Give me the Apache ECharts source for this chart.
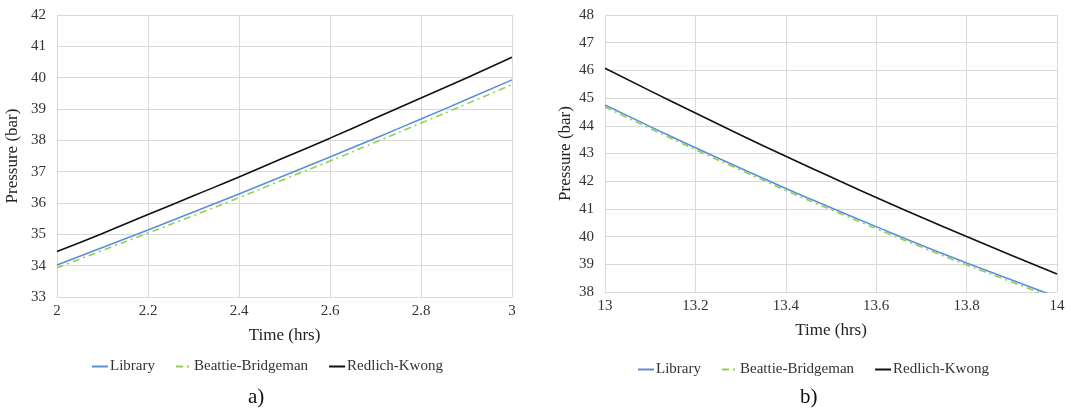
<!DOCTYPE html>
<html>
<head>
<meta charset="utf-8">
<script src="https://cdn.jsdelivr.net/npm/echarts@6/dist/echarts.min.js"></script>
<style>
html, body { margin: 0; padding: 0; background: #fff; }
#main { width: 1071px; height: 414px; }
</style>
</head>
<body>
<div id="main"></div>
<script>
// 数据 a)
var timeA = [2.0, 2.1, 2.2, 2.3, 2.4, 2.5, 2.6, 2.7, 2.8, 2.9, 3.0];
var libraryA = [34.02, 34.58, 35.14, 35.71, 36.29, 36.88, 37.47, 38.07, 38.68, 39.30, 39.93];
var beattieA = [33.93, 34.49, 35.04, 35.60, 36.17, 36.76, 37.34, 37.94, 38.55, 39.16, 39.78];
var redlichA = [34.45, 35.03, 35.63, 36.23, 36.83, 37.45, 38.07, 38.71, 39.35, 39.99, 40.65];
// 数据 b)
var timeB = [13.0, 13.1, 13.2, 13.3, 13.4, 13.5, 13.6, 13.7, 13.8, 13.9, 14.0];
var libraryB = [44.75, 43.97, 43.21, 42.47, 41.74, 41.04, 40.36, 39.69, 39.05, 38.43, 37.82];
var beattieB = [44.68, 43.90, 43.14, 42.40, 41.67, 40.97, 40.29, 39.62, 38.98, 38.36, 37.75];
var redlichB = [46.08, 45.26, 44.46, 43.67, 42.90, 42.15, 41.41, 40.70, 40.00, 39.32, 38.65];

var seriesNames = ['Library', 'Beattie-Bridgeman', 'Redlich-Kwong'];

function pairs(xs, ys) {
    return xs.map(function (x, i) { return [x, ys[i]]; });
}

var font = 'Liberation Serif';
var gridColor = '#d9d9d9';

function xAxisCfg(idx, min, max) {
    return {
        type: 'value', gridIndex: idx, min: min, max: max, interval: 0.2,
        name: 'Time (hrs)', nameLocation: 'middle', nameGap: 30,
        nameTextStyle: { fontFamily: font, fontSize: 17, color: '#222' },
        axisLine: { lineStyle: { color: gridColor } },
        axisTick: { show: false },
        axisLabel: { fontFamily: font, fontSize: 15, color: '#333', margin: 7,
            formatter: function (v) { return +v.toFixed(1) + ''; } },
        splitLine: { lineStyle: { color: gridColor } }
    };
}
function yAxisCfg(idx, min, max, gap) {
    return {
        type: 'value', gridIndex: idx, min: min, max: max, interval: 1,
        name: 'Pressure (bar)', nameLocation: 'middle', nameGap: gap,
        nameTextStyle: { fontFamily: font, fontSize: 17, color: '#222' },
        axisLine: { show: true, lineStyle: { color: gridColor } },
        axisTick: { show: false },
        axisLabel: { fontFamily: font, fontSize: 15, color: '#333', margin: 11 },
        splitLine: { lineStyle: { color: gridColor } }
    };
}
function lines(idx, xs, lib, bb, rk) {
    return [
        { name: 'Library', type: 'line', xAxisIndex: idx, yAxisIndex: idx, symbol: 'none',
          smooth: true, data: pairs(xs, lib), lineStyle: { color: '#5b8fd9', width: 1.6 }, itemStyle: { color: '#5b8fd9' } },
        { name: 'Beattie-Bridgeman', type: 'line', xAxisIndex: idx, yAxisIndex: idx, symbol: 'none',
          smooth: true, data: pairs(xs, bb), lineStyle: { color: '#92d050', width: 1.6, type: [7, 4, 2, 4] }, itemStyle: { color: '#92d050' } },
        { name: 'Redlich-Kwong', type: 'line', xAxisIndex: idx, yAxisIndex: idx, symbol: 'none',
          smooth: true, data: pairs(xs, rk), lineStyle: { color: '#111', width: 1.6 }, itemStyle: { color: '#111' } }
    ];
}

var legendBase = { itemWidth: 16, itemHeight: 10, itemGap: 20,
    itemStyle: { opacity: 0 },
    textStyle: { fontFamily: font, fontSize: 15, color: '#333', padding: [0, 0, 0, -3] } };

var myChart = echarts.init(document.getElementById('main'));
myChart.setOption({
    backgroundColor: '#FFF',
    animation: false,
    title: [
        { text: 'a)', left: 243, top: 382, textStyle: { fontFamily: font, fontSize: 21, fontWeight: 'normal', color: '#111' } },
        { text: 'b)', left: 795, top: 382, textStyle: { fontFamily: font, fontSize: 21, fontWeight: 'normal', color: '#111' } }
    ],
    grid: [
        { left: 57, right: 559, top: 15, bottom: 117 },
        { left: 605, right: 14, top: 15, bottom: 122 }
    ],
    legend: [
        Object.assign({ data: seriesNames, left: 86, top: 354 }, legendBase),
        Object.assign({ data: seriesNames, left: 632, top: 357 }, legendBase)
    ],
    xAxis: [xAxisCfg(0, 2, 3), xAxisCfg(1, 13, 14)],
    yAxis: [yAxisCfg(0, 33, 42, 36), yAxisCfg(1, 38, 48, 31)],
    series: lines(0, timeA, libraryA, beattieA, redlichA).concat(lines(1, timeB, libraryB, beattieB, redlichB))
});
</script>
</body>
</html>
